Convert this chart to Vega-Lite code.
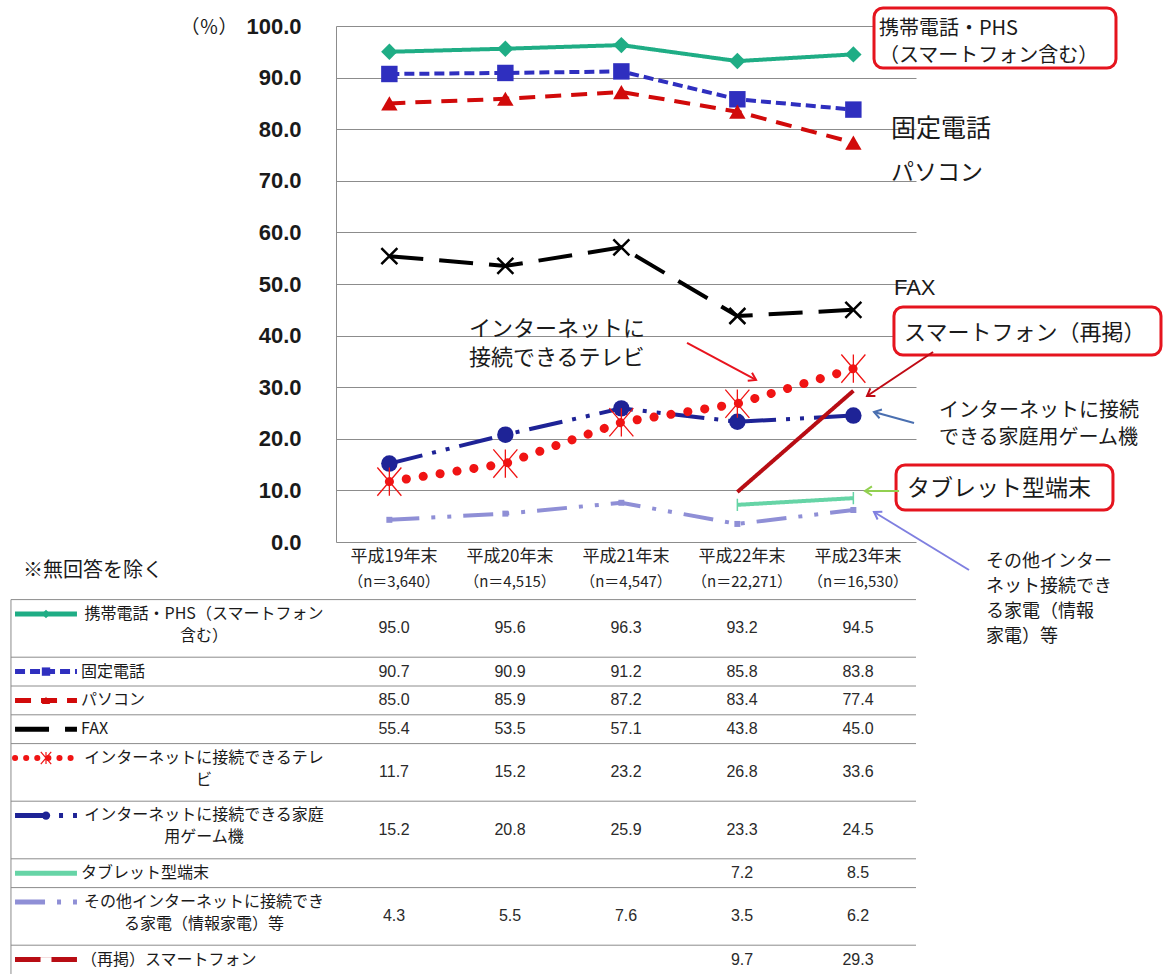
{
  "$schema": "https://vega.github.io/schema/vega-lite/v6.json",
  "background": "white",
  "padding": {"left": 10, "top": 6, "right": 0, "bottom": 0},
  "config": {"view": {"stroke": null}, "font": "Noto Sans CJK JP", "text": {"font": "Noto Sans CJK JP"}},
  "datasets": {
    "vals": [
      {"series": "携帯電話・PHS（スマートフォン含む）", "year": 19, "value": 95.0},
      {"series": "携帯電話・PHS（スマートフォン含む）", "year": 20, "value": 95.6},
      {"series": "携帯電話・PHS（スマートフォン含む）", "year": 21, "value": 96.3},
      {"series": "携帯電話・PHS（スマートフォン含む）", "year": 22, "value": 93.2},
      {"series": "携帯電話・PHS（スマートフォン含む）", "year": 23, "value": 94.5},
      {"series": "固定電話", "year": 19, "value": 90.7},
      {"series": "固定電話", "year": 20, "value": 90.9},
      {"series": "固定電話", "year": 21, "value": 91.2},
      {"series": "固定電話", "year": 22, "value": 85.8},
      {"series": "固定電話", "year": 23, "value": 83.8},
      {"series": "パソコン", "year": 19, "value": 85.0},
      {"series": "パソコン", "year": 20, "value": 85.9},
      {"series": "パソコン", "year": 21, "value": 87.2},
      {"series": "パソコン", "year": 22, "value": 83.4},
      {"series": "パソコン", "year": 23, "value": 77.4},
      {"series": "FAX", "year": 19, "value": 55.4},
      {"series": "FAX", "year": 20, "value": 53.5},
      {"series": "FAX", "year": 21, "value": 57.1},
      {"series": "FAX", "year": 22, "value": 43.8},
      {"series": "FAX", "year": 23, "value": 45.0},
      {"series": "インターネットに接続できるテレビ", "year": 19, "value": 11.7},
      {"series": "インターネットに接続できるテレビ", "year": 20, "value": 15.2},
      {"series": "インターネットに接続できるテレビ", "year": 21, "value": 23.2},
      {"series": "インターネットに接続できるテレビ", "year": 22, "value": 26.8},
      {"series": "インターネットに接続できるテレビ", "year": 23, "value": 33.6},
      {"series": "インターネットに接続できる家庭用ゲーム機", "year": 19, "value": 15.2},
      {"series": "インターネットに接続できる家庭用ゲーム機", "year": 20, "value": 20.8},
      {"series": "インターネットに接続できる家庭用ゲーム機", "year": 21, "value": 25.9},
      {"series": "インターネットに接続できる家庭用ゲーム機", "year": 22, "value": 23.3},
      {"series": "インターネットに接続できる家庭用ゲーム機", "year": 23, "value": 24.5},
      {"series": "タブレット型端末", "year": 22, "value": 7.2},
      {"series": "タブレット型端末", "year": 23, "value": 8.5},
      {"series": "その他インターネットに接続できる家電（情報家電）等", "year": 19, "value": 4.3},
      {"series": "その他インターネットに接続できる家電（情報家電）等", "year": 20, "value": 5.5},
      {"series": "その他インターネットに接続できる家電（情報家電）等", "year": 21, "value": 7.6},
      {"series": "その他インターネットに接続できる家電（情報家電）等", "year": 22, "value": 3.5},
      {"series": "その他インターネットに接続できる家電（情報家電）等", "year": 23, "value": 6.2},
      {"series": "（再掲）スマートフォン", "year": 22, "value": 9.7},
      {"series": "（再掲）スマートフォン", "year": 23, "value": 29.3}
    ],
    "rows": [
      {"series": "携帯電話・PHS（スマートフォン含む）", "label": "携帯電話・PHS（スマートフォン\n含む）"},
      {"series": "固定電話", "label": "固定電話"},
      {"series": "パソコン", "label": "パソコン"},
      {"series": "FAX", "label": "FAX"},
      {"series": "インターネットに接続できるテレビ", "label": "インターネットに接続できるテレ\nビ"},
      {"series": "インターネットに接続できる家庭用ゲーム機", "label": "インターネットに接続できる家庭\n用ゲーム機"},
      {"series": "タブレット型端末", "label": "タブレット型端末"},
      {"series": "その他インターネットに接続できる家電（情報家電）等", "label": "その他インターネットに接続でき\nる家電（情報家電）等"},
      {"series": "（再掲）スマートフォン", "label": "（再掲）スマートフォン"}
    ],
    "periods": [
      {"year": 19, "period": "平成19年末", "n": "（n＝3,640）"},
      {"year": 20, "period": "平成20年末", "n": "（n＝4,515）"},
      {"year": 21, "period": "平成21年末", "n": "（n＝4,547）"},
      {"year": 22, "period": "平成22年末", "n": "（n＝22,271）"},
      {"year": 23, "period": "平成23年末", "n": "（n＝16,530）"}
    ]
  },
  "bounds": "flush",
  "spacing": 0,
  "vconcat": [
    {
      "width": 580,
      "height": 516,
      "layer": [
        {
          "data": {"name": "vals"},
          "transform": [{"filter": {"not": {"field": "series", "equal": "インターネットに接続できるテレビ"}}}],
          "mark": {"type": "line", "strokeWidth": 4},
          "encoding": {
            "x": {"field": "year", "type": "quantitative", "axis": null, "scale": {"domain": [18.54, 23.54], "nice": false, "zero": false}},
            "y": {"field": "value", "type": "quantitative", "title": null, "scale": {"domain": [0, 100], "nice": false, "zero": false},
              "axis": {"values": [0, 10, 20, 30, 40, 50, 60, 70, 80, 90, 100], "format": ".1f", "ticks": false, "labelPadding": 35, "labelFont": "Liberation Sans", "labelFontSize": 22, "labelFontWeight": "bold", "labelColor": "#1a1a1a", "labelFlush": false, "labelOverlap": false, "grid": true, "gridColor": "#8c8c8c", "gridWidth": 1, "domain": true, "domainColor": "#8c8c8c", "domainWidth": 1, "title": null}},
            "color": {"field": "series", "type": "nominal", "legend": null, "scale": {"domain": ["携帯電話・PHS（スマートフォン含む）", "固定電話", "パソコン", "FAX", "インターネットに接続できるテレビ", "インターネットに接続できる家庭用ゲーム機", "タブレット型端末", "その他インターネットに接続できる家電（情報家電）等", "（再掲）スマートフォン"], "range": ["#1FAD85", "#2F2FBF", "#D10A0A", "#000000", "#F01414", "#1E2396", "#66D4A6", "#8F8FD6", "#B80D14"]}},
            "strokeDash": {"field": "series", "type": "nominal", "legend": null, "scale": {"domain": ["携帯電話・PHS（スマートフォン含む）", "固定電話", "パソコン", "FAX", "インターネットに接続できるテレビ", "インターネットに接続できる家庭用ゲーム機", "タブレット型端末", "その他インターネットに接続できる家電（情報家電）等", "（再掲）スマートフォン"], "range": [[1, 0], [10, 5], [16, 10], [34, 16], [1, 0], [34, 10, 4, 10, 4, 10], [1, 0], [30, 12, 4, 12, 4, 12], [1, 0]]}}
          }
        },
        {
          "data": {"name": "vals"},
          "transform": [{"filter": {"field": "series", "equal": "インターネットに接続できるテレビ"}}],
          "mark": {"type": "line", "strokeWidth": 9, "strokeCap": "round", "strokeDash": [0.1, 17], "color": "#F01414"},
          "encoding": {
            "x": {"field": "year", "type": "quantitative", "axis": null},
            "y": {"field": "value", "type": "quantitative", "title": null}
          }
        },
        {
          "data": {"name": "vals"},
          "transform": [{"filter": {"field": "series", "oneOf": ["携帯電話・PHS（スマートフォン含む）", "固定電話", "パソコン", "インターネットに接続できる家庭用ゲーム機"]}}],
          "mark": {"type": "point", "filled": true, "size": 270, "opacity": 1},
          "encoding": {
            "x": {"field": "year", "type": "quantitative", "axis": null},
            "y": {"field": "value", "type": "quantitative", "title": null},
            "color": {"field": "series", "type": "nominal", "legend": null, "scale": {"domain": ["携帯電話・PHS（スマートフォン含む）", "固定電話", "パソコン", "FAX", "インターネットに接続できるテレビ", "インターネットに接続できる家庭用ゲーム機", "タブレット型端末", "その他インターネットに接続できる家電（情報家電）等", "（再掲）スマートフォン"], "range": ["#1FAD85", "#2F2FBF", "#D10A0A", "#000000", "#F01414", "#1E2396", "#66D4A6", "#8F8FD6", "#B80D14"]}},
            "shape": {"field": "series", "type": "nominal", "legend": null, "scale": {"domain": ["携帯電話・PHS（スマートフォン含む）", "固定電話", "パソコン", "インターネットに接続できる家庭用ゲーム機"], "range": ["diamond", "square", "triangle-up", "circle"]}}
          }
        },
        {
          "data": {"name": "vals"},
          "transform": [{"filter": {"field": "series", "equal": "FAX"}}],
          "mark": {"type": "point", "shape": "M-1,-1L1,1M1,-1L-1,1", "size": 256, "filled": false, "stroke": "#000000", "strokeWidth": 2.5, "opacity": 1},
          "encoding": {
            "x": {"field": "year", "type": "quantitative", "axis": null},
            "y": {"field": "value", "type": "quantitative", "title": null}
          }
        },
        {
          "data": {"name": "vals"},
          "transform": [{"filter": {"field": "series", "equal": "インターネットに接続できるテレビ"}}],
          "mark": {"type": "point", "shape": "M-0.85,-1L0.85,1M0.85,-1L-0.85,1M0,-1L0,1", "size": 800, "filled": false, "stroke": "#F01414", "strokeWidth": 1.3, "opacity": 1},
          "encoding": {
            "x": {"field": "year", "type": "quantitative", "axis": null},
            "y": {"field": "value", "type": "quantitative", "title": null}
          }
        },
        {
          "data": {"name": "vals"},
          "transform": [{"filter": {"field": "series", "equal": "タブレット型端末"}}],
          "mark": {"type": "point", "shape": "M0,-1L0,1", "size": 150, "filled": false, "stroke": "#66D4A6", "strokeWidth": 1.5, "opacity": 1},
          "encoding": {
            "x": {"field": "year", "type": "quantitative", "axis": null},
            "y": {"field": "value", "type": "quantitative", "title": null}
          }
        },
        {
          "data": {"name": "vals"},
          "transform": [{"filter": {"field": "series", "equal": "その他インターネットに接続できる家電（情報家電）等"}}],
          "mark": {"type": "point", "shape": "square", "size": 36, "filled": true, "color": "#8F8FD6", "opacity": 1},
          "encoding": {
            "x": {"field": "year", "type": "quantitative", "axis": null},
            "y": {"field": "value", "type": "quantitative", "title": null}
          }
        },
        {
          "data": {"values": [{}]},
          "mark": {"type": "text", "text": "（％）", "font": "Noto Sans CJK JP", "align": "center", "baseline": "middle", "fontSize": 19, "color": "#1a1a1a"},
          "encoding": {"x": {"datum": 17.445, "axis": null}, "y": {"datum": 99.6}}
        },
        {
          "data": {"values": [{}]},
          "mark": {"type": "rect", "fill": "white", "stroke": "#E5141E", "strokeWidth": 3, "cornerRadius": 9},
          "encoding": {"x": {"datum": 23.178, "axis": null}, "x2": {"datum": 25.264}, "y": {"datum": 103.49}, "y2": {"datum": 91.86}}
        },
        {
          "data": {"values": [{}]},
          "mark": {"type": "text", "text": ["携帯電話・PHS", "（スマートフォン含む）"], "font": "Noto Sans CJK JP", "align": "left", "baseline": "middle", "fontSize": 20, "lineHeight": 27, "color": "#1a1a1a"},
          "encoding": {"x": {"datum": 23.22, "axis": null}, "y": {"datum": 99.35}}
        },
        {
          "data": {"values": [{}]},
          "mark": {"type": "text", "text": "固定電話", "font": "Noto Sans CJK JP", "align": "left", "baseline": "middle", "fontSize": 25, "color": "#1a1a1a"},
          "encoding": {"x": {"datum": 23.325, "axis": null}, "y": {"datum": 80.1}}
        },
        {
          "data": {"values": [{}]},
          "mark": {"type": "text", "text": "パソコン", "font": "Noto Sans CJK JP", "align": "left", "baseline": "middle", "fontSize": 23, "color": "#1a1a1a"},
          "encoding": {"x": {"datum": 23.325, "axis": null}, "y": {"datum": 71.6}}
        },
        {
          "data": {"values": [{}]},
          "mark": {"type": "text", "text": "FAX", "font": "Liberation Sans", "align": "left", "baseline": "middle", "fontSize": 22, "color": "#1a1a1a"},
          "encoding": {"x": {"datum": 23.35, "axis": null}, "y": {"datum": 49.22}}
        },
        {
          "data": {"values": [{}]},
          "mark": {"type": "text", "text": ["インターネットに", "接続できるテレビ"], "font": "Noto Sans CJK JP", "align": "left", "baseline": "middle", "fontSize": 22, "lineHeight": 29, "color": "#1a1a1a"},
          "encoding": {"x": {"datum": 19.687, "axis": null}, "y": {"datum": 41.2}}
        },
        {
          "data": {"values": [{}]},
          "mark": {"type": "rule", "color": "#E8141E", "strokeWidth": 2},
          "encoding": {"x": {"datum": 21.566, "axis": null}, "y": {"datum": 38.57}, "x2": {"datum": 22.161}, "y2": {"datum": 31.4}}
        },
        {
          "data": {"values": [{}]},
          "mark": {"type": "point", "shape": "M-1,-0.65L0,0L-1,0.65", "size": 196, "filled": false, "stroke": "#E8141E", "strokeWidth": 2, "angle": 28.2, "opacity": 1},
          "encoding": {"x": {"datum": 22.161, "axis": null}, "y": {"datum": 31.4}}
        },
        {
          "data": {"values": [{}]},
          "mark": {"type": "rect", "fill": "white", "stroke": "#E5141E", "strokeWidth": 3, "cornerRadius": 9},
          "encoding": {"x": {"datum": 23.35, "axis": null}, "x2": {"datum": 25.652}, "y": {"datum": 45.54}, "y2": {"datum": 36.24}}
        },
        {
          "data": {"values": [{}]},
          "mark": {"type": "text", "text": "スマートフォン（再掲）", "font": "Noto Sans CJK JP", "align": "left", "baseline": "middle", "fontSize": 22, "color": "#1a1a1a"},
          "encoding": {"x": {"datum": 23.437, "axis": null}, "y": {"datum": 40.6}}
        },
        {
          "data": {"values": [{}]},
          "mark": {"type": "rule", "color": "#C00A14", "strokeWidth": 2},
          "encoding": {"x": {"datum": 23.687, "axis": null}, "y": {"datum": 36.82}, "x2": {"datum": 23.118}, "y2": {"datum": 28.29}}
        },
        {
          "data": {"values": [{}]},
          "mark": {"type": "point", "shape": "M-1,-0.65L0,0L-1,0.65", "size": 196, "filled": false, "stroke": "#C00A14", "strokeWidth": 2, "angle": 146.3, "opacity": 1},
          "encoding": {"x": {"datum": 23.118, "axis": null}, "y": {"datum": 28.29}}
        },
        {
          "data": {"values": [{}]},
          "mark": {"type": "text", "text": ["インターネットに接続", "できる家庭用ゲーム機"], "font": "Noto Sans CJK JP", "align": "left", "baseline": "middle", "fontSize": 20, "lineHeight": 27, "color": "#1a1a1a"},
          "encoding": {"x": {"datum": 23.738, "axis": null}, "y": {"datum": 25.4}}
        },
        {
          "data": {"values": [{}]},
          "mark": {"type": "rule", "color": "#4A6FB0", "strokeWidth": 2},
          "encoding": {"x": {"datum": 23.523, "axis": null}, "y": {"datum": 23.06}, "x2": {"datum": 23.178}, "y2": {"datum": 25.19}}
        },
        {
          "data": {"values": [{}]},
          "mark": {"type": "point", "shape": "M-1,-0.65L0,0L-1,0.65", "size": 196, "filled": false, "stroke": "#4A6FB0", "strokeWidth": 2, "angle": -164.6, "opacity": 1},
          "encoding": {"x": {"datum": 23.178, "axis": null}, "y": {"datum": 25.19}}
        },
        {
          "data": {"values": [{}]},
          "mark": {"type": "rect", "fill": "white", "stroke": "#E5141E", "strokeWidth": 3, "cornerRadius": 9},
          "encoding": {"x": {"datum": 23.368, "axis": null}, "x2": {"datum": 25.238}, "y": {"datum": 14.92}, "y2": {"datum": 6.2}}
        },
        {
          "data": {"values": [{}]},
          "mark": {"type": "text", "text": "タブレット型端末", "font": "Noto Sans CJK JP", "align": "left", "baseline": "middle", "fontSize": 23, "color": "#1a1a1a"},
          "encoding": {"x": {"datum": 23.463, "axis": null}, "y": {"datum": 10.2}}
        },
        {
          "data": {"values": [{}]},
          "mark": {"type": "rule", "color": "#92D050", "strokeWidth": 2},
          "encoding": {"x": {"datum": 23.394, "axis": null}, "y": {"datum": 9.9}, "x2": {"datum": 23.1}, "y2": {"datum": 9.9}}
        },
        {
          "data": {"values": [{}]},
          "mark": {"type": "point", "shape": "M-1,-0.65L0,0L-1,0.65", "size": 196, "filled": false, "stroke": "#92D050", "strokeWidth": 2, "angle": 180, "opacity": 1},
          "encoding": {"x": {"datum": 23.1, "axis": null}, "y": {"datum": 9.9}}
        },
        {
          "data": {"values": [{}]},
          "mark": {"type": "text", "text": ["その他インター", "ネット接続でき", "る家電（情報", "家電）等"], "font": "Noto Sans CJK JP", "align": "left", "baseline": "middle", "fontSize": 18, "lineHeight": 25, "color": "#1a1a1a"},
          "encoding": {"x": {"datum": 24.143, "axis": null}, "y": {"datum": -3.8}}
        },
        {
          "data": {"values": [{}]},
          "mark": {"type": "rule", "color": "#7F7FE0", "strokeWidth": 2},
          "encoding": {"x": {"datum": 23.997, "axis": null}, "y": {"datum": -5.43}, "x2": {"datum": 23.178}, "y2": {"datum": 5.81}}
        },
        {
          "data": {"values": [{}]},
          "mark": {"type": "point", "shape": "M-1,-0.65L0,0L-1,0.65", "size": 196, "filled": false, "stroke": "#7F7FE0", "strokeWidth": 2, "angle": -148.6, "opacity": 1},
          "encoding": {"x": {"datum": 23.178, "axis": null}, "y": {"datum": 5.81}}
        }
      ]
    },
    {
      "width": 580,
      "height": 432,
      "layer": [
        {
          "data": {"name": "rows"},
          "mark": {"type": "rule", "color": "#8c8c8c", "strokeWidth": 1},
          "encoding": {
            "y": {"field": "series", "type": "nominal", "bandPosition": 0, "axis": null, "scale": {"type": "band", "padding": 0, "domain": ["h1", "h2", "携帯電話・PHS（スマートフォン含む）", "S1-2", "固定電話", "パソコン", "FAX", "インターネットに接続できるテレビ", "S5-2", "インターネットに接続できる家庭用ゲーム機", "S6-2", "タブレット型端末", "その他インターネットに接続できる家電（情報家電）等", "S8-2", "（再掲）スマートフォン"]}},
            "x": {"datum": 15.698, "axis": null, "scale": {"domain": [18.5, 23.5], "nice": false, "zero": false}},
            "x2": {"datum": 23.5}
          }
        },
        {
          "data": {"values": [{}]},
          "mark": {"type": "rule", "color": "#8c8c8c", "strokeWidth": 1},
          "encoding": {
            "x": {"datum": 15.698, "axis": null},
            "y": {"datum": "携帯電話・PHS（スマートフォン含む）", "type": "nominal", "bandPosition": 0, "axis": null},
            "y2": {"value": "height"}
          }
        },
        {
          "data": {"name": "vals"},
          "transform": [{"filter": {"not": {"field": "series", "oneOf": ["携帯電話・PHS（スマートフォン含む）", "インターネットに接続できるテレビ", "インターネットに接続できる家庭用ゲーム機", "その他インターネットに接続できる家電（情報家電）等"]}}}],
          "mark": {"type": "text", "font": "Liberation Sans", "fontSize": 16, "color": "#2a2a2a", "baseline": "middle", "align": "center"},
          "encoding": {
            "x": {"field": "year", "type": "quantitative", "scale": {"domain": [18.5, 23.5], "nice": false, "zero": false},
              "axis": {"values": [18.5, 19.5, 20.5, 21.5, 22.5, 23.5], "grid": true, "gridColor": "#8c8c8c", "gridWidth": 1, "labels": false, "ticks": false, "domain": false, "title": null}},
            "y": {"field": "series", "type": "nominal", "bandPosition": 0.5, "axis": null},
            "text": {"field": "value", "type": "quantitative", "format": ".1f"}
          }
        },
        {
          "data": {"name": "vals"},
          "transform": [{"filter": {"field": "series", "oneOf": ["携帯電話・PHS（スマートフォン含む）", "インターネットに接続できるテレビ", "インターネットに接続できる家庭用ゲーム機", "その他インターネットに接続できる家電（情報家電）等"]}}],
          "mark": {"type": "text", "font": "Liberation Sans", "fontSize": 16, "color": "#2a2a2a", "baseline": "middle", "align": "center"},
          "encoding": {
            "x": {"field": "year", "type": "quantitative", "axis": null},
            "y": {"field": "series", "type": "nominal", "bandPosition": 1, "axis": null},
            "text": {"field": "value", "type": "quantitative", "format": ".1f"}
          }
        },
        {
          "data": {"name": "periods"},
          "mark": {"type": "text", "font": "Noto Sans CJK JP", "fontSize": 17, "color": "#222222", "baseline": "middle", "align": "center", "dy": 1},
          "encoding": {
            "x": {"field": "year", "type": "quantitative", "axis": null},
            "y": {"datum": "h1", "type": "nominal", "bandPosition": 0.5, "axis": null},
            "text": {"field": "period", "type": "nominal"}
          }
        },
        {
          "data": {"name": "periods"},
          "mark": {"type": "text", "font": "Noto Sans CJK JP", "fontSize": 15, "color": "#222222", "baseline": "middle", "align": "center", "dy": -3},
          "encoding": {
            "x": {"field": "year", "type": "quantitative", "axis": null},
            "y": {"datum": "h2", "type": "nominal", "bandPosition": 0.5, "axis": null},
            "text": {"field": "n", "type": "nominal"}
          }
        },
        {
          "data": {"values": [{}]},
          "mark": {"type": "text", "text": "※無回答を除く", "font": "Noto Sans CJK JP", "fontSize": 20, "color": "#1a1a1a", "baseline": "middle", "align": "left"},
          "encoding": {
            "x": {"datum": 15.802, "axis": null},
            "y": {"datum": "h1", "type": "nominal", "bandPosition": 1, "axis": null}
          }
        },
        {
          "data": {"name": "rows"},
          "transform": [{"filter": {"not": {"field": "series", "oneOf": ["携帯電話・PHS（スマートフォン含む）", "インターネットに接続できるテレビ", "インターネットに接続できる家庭用ゲーム機", "その他インターネットに接続できる家電（情報家電）等"]}}}],
          "mark": {"type": "text", "font": "Noto Sans CJK JP", "fontSize": 16, "color": "#1a1a1a", "baseline": "middle", "align": "left"},
          "encoding": {
            "x": {"datum": 16.302, "axis": null},
            "y": {"field": "series", "type": "nominal", "bandPosition": 0.5, "axis": null},
            "text": {"field": "label", "type": "nominal"}
          }
        },
        {
          "data": {"name": "rows"},
          "transform": [{"filter": {"field": "series", "oneOf": ["携帯電話・PHS（スマートフォン含む）", "インターネットに接続できるテレビ", "インターネットに接続できる家庭用ゲーム機", "その他インターネットに接続できる家電（情報家電）等"]}}],
          "mark": {"type": "text", "font": "Noto Sans CJK JP", "fontSize": 16, "color": "#1a1a1a", "baseline": "top", "align": "center", "dy": 6, "lineBreak": "\n", "lineHeight": 22},
          "encoding": {
            "x": {"datum": 17.362, "axis": null},
            "y": {"field": "series", "type": "nominal", "bandPosition": 0, "axis": null},
            "text": {"field": "label", "type": "nominal"}
          }
        },
        {
          "data": {"name": "rows"},
          "transform": [{"filter": {"not": {"field": "series", "equal": "インターネットに接続できるテレビ"}}}],
          "mark": {"type": "rule", "strokeWidth": 5},
          "encoding": {
            "x": {"datum": 15.733, "axis": null},
            "x2": {"datum": 16.267},
            "y": {"field": "series", "type": "nominal", "bandPosition": 0.5, "axis": null},
            "color": {"field": "series", "type": "nominal", "legend": null, "scale": {"domain": ["携帯電話・PHS（スマートフォン含む）", "固定電話", "パソコン", "FAX", "インターネットに接続できるテレビ", "インターネットに接続できる家庭用ゲーム機", "タブレット型端末", "その他インターネットに接続できる家電（情報家電）等", "（再掲）スマートフォン"], "range": ["#1FAD85", "#2F2FBF", "#D10A0A", "#000000", "#F01414", "#1E2396", "#66D4A6", "#8F8FD6", "#B80D14"]}},
            "strokeDash": {"field": "series", "type": "nominal", "legend": null, "scale": {"domain": ["携帯電話・PHS（スマートフォン含む）", "固定電話", "パソコン", "FAX", "インターネットに接続できるテレビ", "インターネットに接続できる家庭用ゲーム機", "タブレット型端末", "その他インターネットに接続できる家電（情報家電）等", "（再掲）スマートフォン"], "range": [[1, 0], [10, 5], [16, 10], [34, 16], [1, 0], [34, 10, 4, 10, 4, 10], [1, 0], [30, 12, 4, 12, 4, 12], [1, 0]]}}
          }
        },
        {
          "data": {"name": "rows"},
          "transform": [{"filter": {"field": "series", "equal": "インターネットに接続できるテレビ"}}],
          "mark": {"type": "rule", "strokeWidth": 6, "strokeCap": "round", "strokeDash": [0.1, 11], "color": "#F01414"},
          "encoding": {
            "x": {"datum": 15.733, "axis": null},
            "x2": {"datum": 16.267},
            "y": {"field": "series", "type": "nominal", "bandPosition": 0.5, "axis": null}
          }
        },
        {
          "data": {"name": "rows"},
          "transform": [{"filter": {"field": "series", "oneOf": ["携帯電話・PHS（スマートフォン含む）", "固定電話", "パソコン", "インターネットに接続できる家庭用ゲーム機"]}}],
          "mark": {"type": "point", "filled": true, "size": 70, "opacity": 1},
          "encoding": {
            "x": {"datum": 16.0, "axis": null},
            "y": {"field": "series", "type": "nominal", "bandPosition": 0.5, "axis": null},
            "color": {"field": "series", "type": "nominal", "legend": null, "scale": {"domain": ["携帯電話・PHS（スマートフォン含む）", "固定電話", "パソコン", "FAX", "インターネットに接続できるテレビ", "インターネットに接続できる家庭用ゲーム機", "タブレット型端末", "その他インターネットに接続できる家電（情報家電）等", "（再掲）スマートフォン"], "range": ["#1FAD85", "#2F2FBF", "#D10A0A", "#000000", "#F01414", "#1E2396", "#66D4A6", "#8F8FD6", "#B80D14"]}},
            "shape": {"field": "series", "type": "nominal", "legend": null, "scale": {"domain": ["携帯電話・PHS（スマートフォン含む）", "固定電話", "パソコン", "インターネットに接続できる家庭用ゲーム機"], "range": ["diamond", "square", "triangle-up", "circle"]}}
          }
        },
        {
          "data": {"name": "rows"},
          "transform": [{"filter": {"field": "series", "equal": "インターネットに接続できるテレビ"}}],
          "mark": {"type": "point", "shape": "M-0.85,-1L0.85,1M0.85,-1L-0.85,1M0,-1L0,1", "size": 150, "filled": false, "stroke": "#F01414", "strokeWidth": 1.2, "opacity": 1},
          "encoding": {
            "x": {"datum": 16.0, "axis": null},
            "y": {"field": "series", "type": "nominal", "bandPosition": 0.5, "axis": null}
          }
        },
        {
          "data": {"name": "rows"},
          "transform": [{"filter": {"field": "series", "equal": "（再掲）スマートフォン"}}],
          "mark": {"type": "point", "shape": "M-1,-0.45L1,-0.45L1,0.45L-1,0.45Z", "size": 120, "filled": true, "color": "white", "opacity": 1},
          "encoding": {
            "x": {"datum": 16.0, "axis": null},
            "y": {"field": "series", "type": "nominal", "bandPosition": 0.5, "axis": null}
          }
        }
      ]
    }
  ]
}
